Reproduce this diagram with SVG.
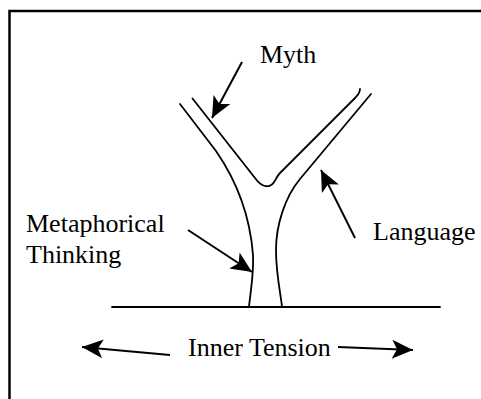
<svg xmlns="http://www.w3.org/2000/svg" width="481" height="399" viewBox="0 0 481 399">
<style>
.t{font-family:"Liberation Serif","Times New Roman",serif;font-size:26px;fill:#000}
.ln{fill:none;stroke:#000;stroke-width:1.8;stroke-linecap:round;stroke-linejoin:round}
.ar{fill:none;stroke:#000;stroke-width:2;marker-end:url(#ah)}
</style>
<defs>
<marker id="ah" markerUnits="userSpaceOnUse" markerWidth="24" markerHeight="24" viewBox="-22 -11 24 22" refX="0" refY="0" orient="auto">
<path d="M0,0 L-21,-9.5 L-16,0 L-21,9.5 Z" fill="#000"/>
</marker>
</defs>
<rect width="481" height="399" fill="#fff"/>
<g id="frame"><path d="M9.5,399 L9.5,11 L481,11" fill="none" stroke="#000" stroke-width="2.5"/></g>
<g id="tree">
<path class="ln" d="M180,104 L216,151 C236,180 250,215 253,255 C254,275 250,295 249,307"/>
<path class="ln" d="M192.5,98.5 L255,178 C260,185 265,187 269,186 C275,185 275,178 280,173 L355,98 C359,94 360,92 360,89"/>
<path class="ln" d="M371,94 L300,179 C285,197 276,225 276,250 C276,275 281,295 282,307"/>
</g>
<g id="ground"><path class="ln" d="M112,307 L440,307"/></g>
<g id="connectors">
<path class="ar" d="M242,62 L212,118"/>
<path class="ar" d="M188,230 L252,272"/>
<path class="ar" d="M355,238 L321,170"/>
<path class="ar" d="M170,355 L82,347"/>
<path class="ar" d="M338,347 L413,350"/>
</g>
<g id="myth"><text class="t" x="260" y="63">Myth</text></g>
<g id="metaphorical"><text class="t" x="26" y="232">Metaphorical</text><text class="t" x="26" y="263">Thinking</text></g>
<g id="language"><text class="t" x="373" y="240">Language</text></g>
<g id="tension"><text class="t" x="188" y="356">Inner Tension</text></g>
</svg>
